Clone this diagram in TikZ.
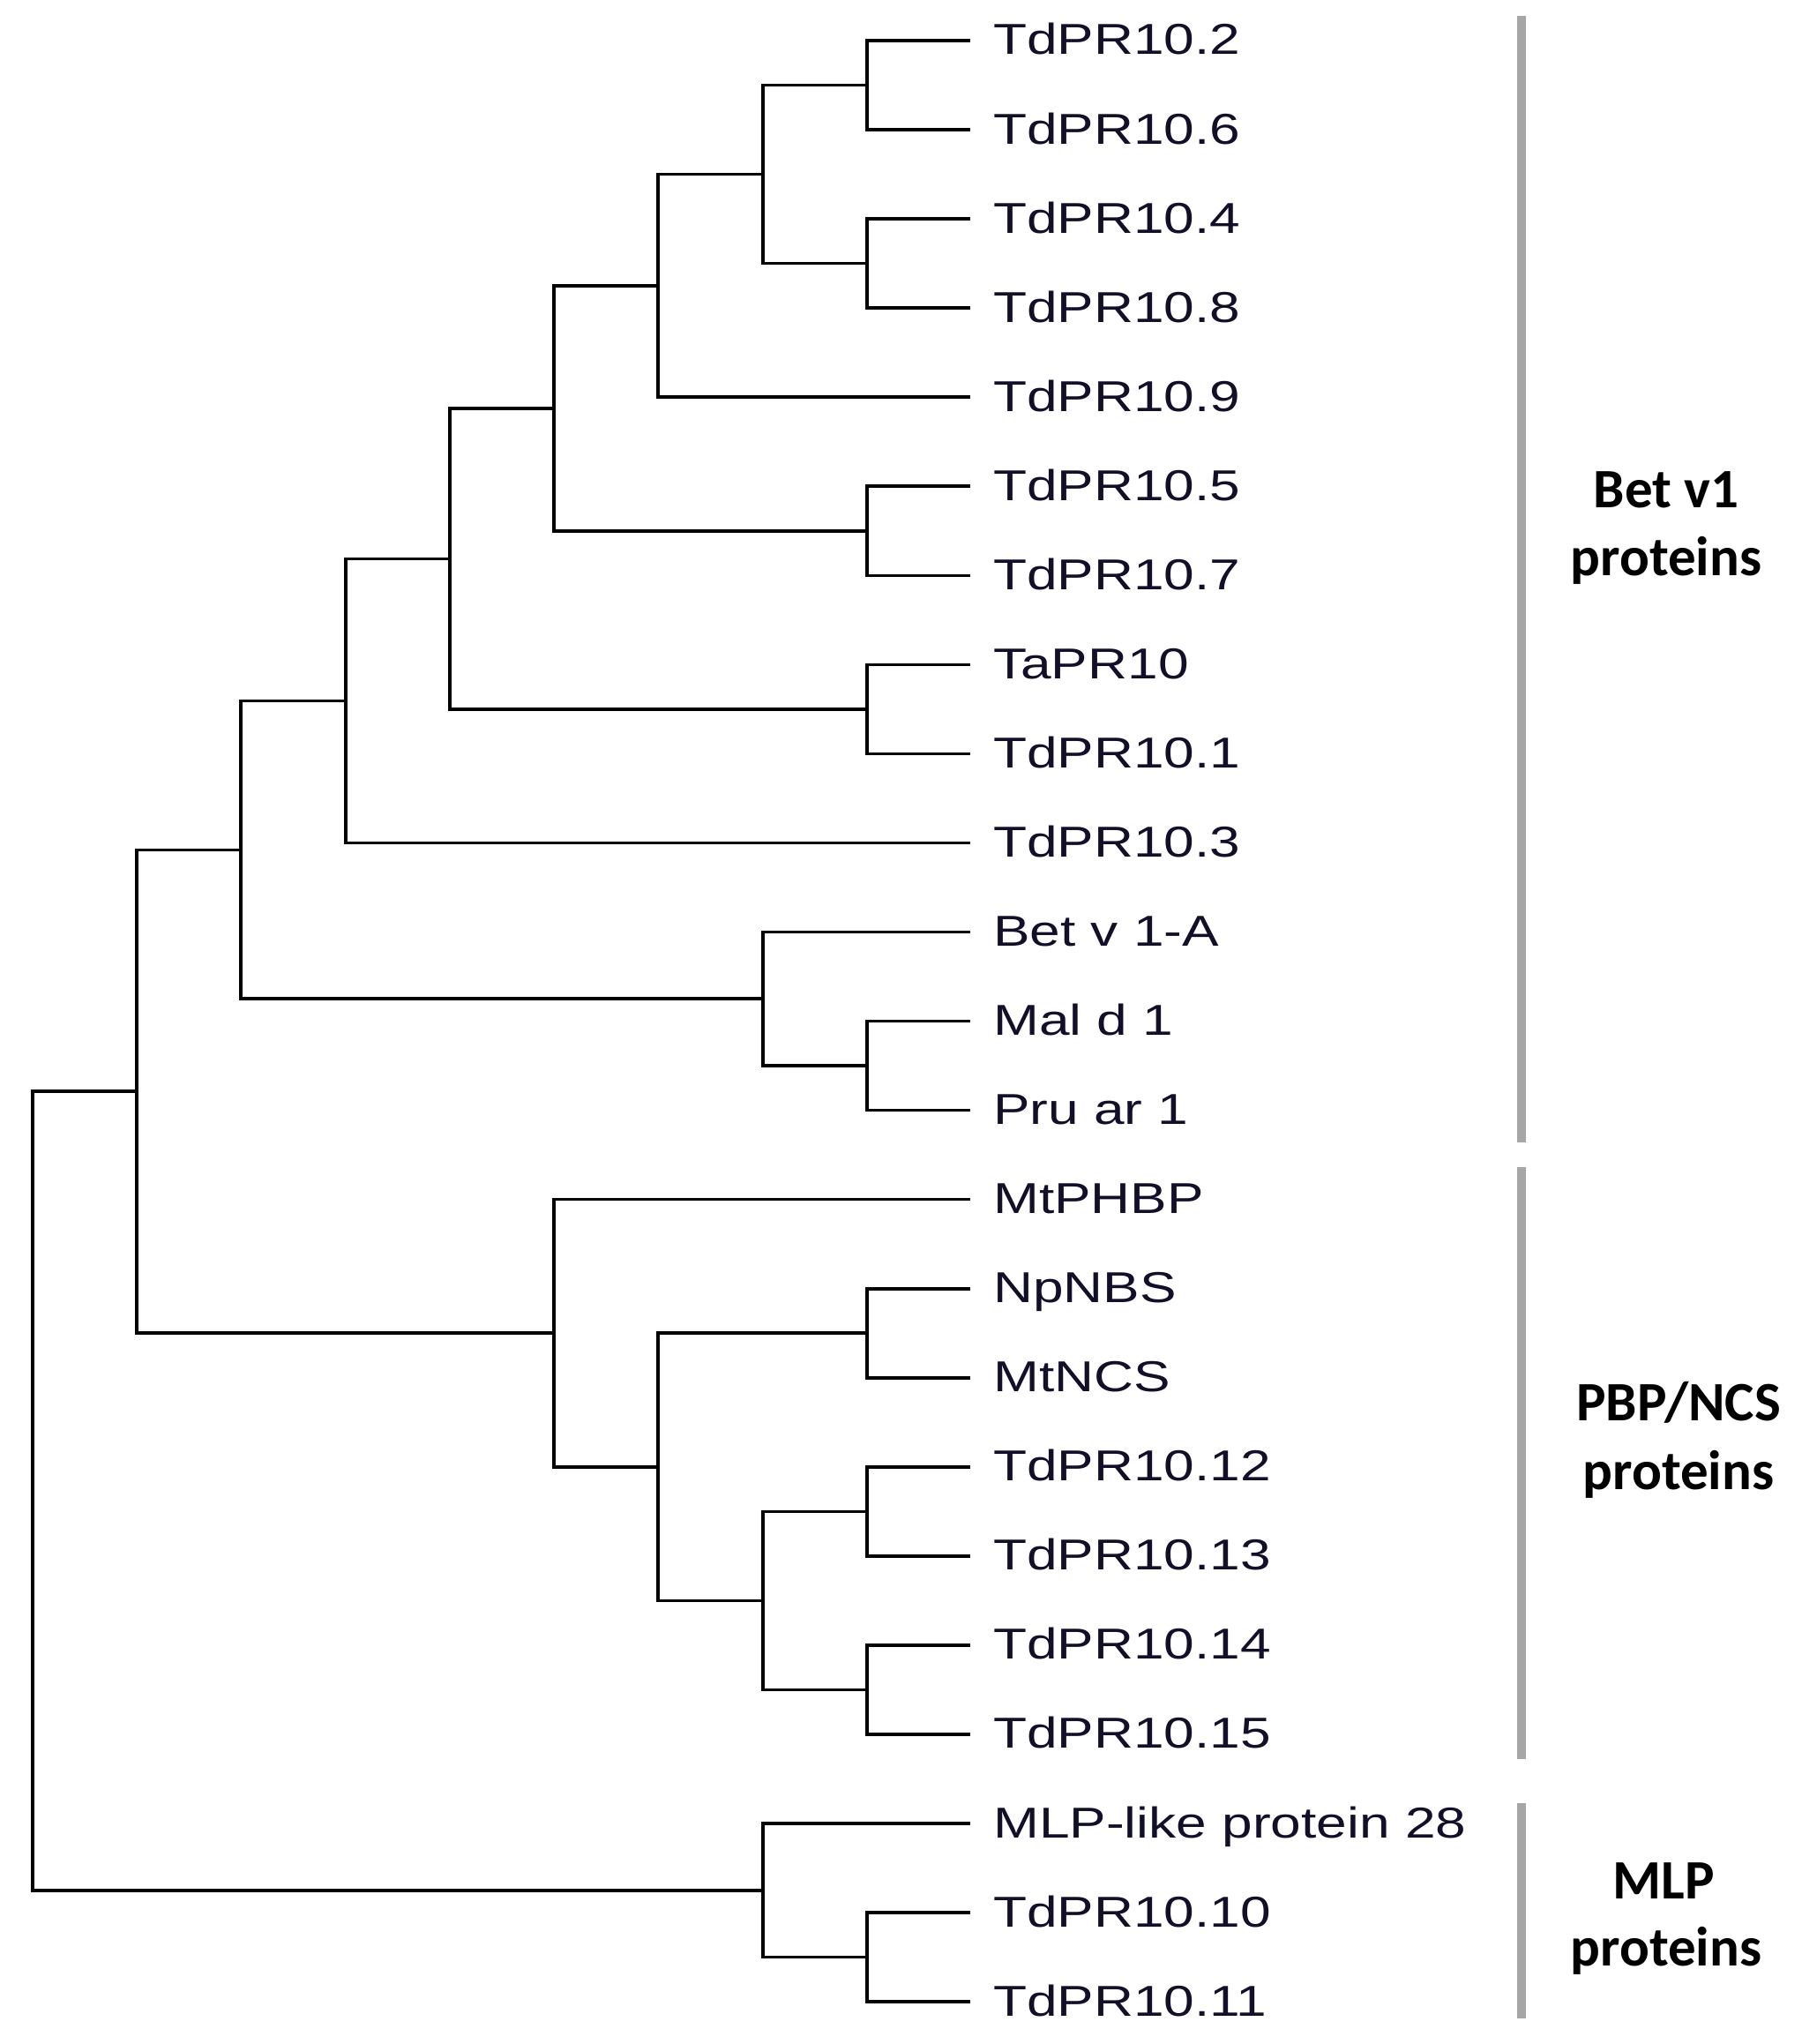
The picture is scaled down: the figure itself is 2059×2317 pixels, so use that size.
\documentclass[tikz,border=0pt]{standalone}
\usepackage{graphicx}
\usepackage{fontspec}
\setmainfont{Liberation Sans}
\newfontfamily\grpfont{Carlito}
\definecolor{labelink}{RGB}{18,16,40}
\definecolor{bargray}{RGB}{166,166,166}
\newcommand{\widetext}[1]{\scalebox{1.27}[1]{#1}}
\begin{document}
\begin{tikzpicture}[x=1pt,y=-1pt,
  declare function={ly(\i)=46+\i*101.05;},
  branch/.style={line width=3.6pt, line join=miter, line cap=rect},
  leaflabel/.style={anchor=base west, inner sep=0pt, text=labelink, font=\fontsize{49}{58}\selectfont},
  grouplabel/.style={anchor=base, inner sep=0pt, font=\grpfont\bfseries\fontsize{63}{76}\selectfont},
  groupbar/.style={fill=bargray, draw=none}]
\useasboundingbox (0,0) rectangle (2059,2317);

% leaves: end points and labels
\foreach \i/\t in {0/TdPR10.2,1/TdPR10.6,2/TdPR10.4,3/TdPR10.8,4/TdPR10.9,5/TdPR10.5,6/TdPR10.7,7/TaPR10,8/TdPR10.1,9/TdPR10.3,10/Bet v 1-A,11/Mal d 1,12/Pru ar 1,13/MtPHBP,14/NpNBS,15/MtNCS,16/TdPR10.12,17/TdPR10.13,18/TdPR10.14,19/TdPR10.15,20/MLP-like protein 28,21/TdPR10.10,22/TdPR10.11}{
  \coordinate (e\i) at (1098,{ly(\i)});
  \node[leaflabel] (n\i) at (1126,{ly(\i)+16}) {\widetext{\t}};
}

% internal nodes
\coordinate (A) at (983,{ly(0.5)});
\coordinate (B) at (983,{ly(2.5)});
\coordinate (C) at (865,{ly(1.5)});
\coordinate (D) at (746,{ly(2.75)});
\coordinate (E) at (983,{ly(5.5)});
\coordinate (F) at (628,{ly(4.125)});
\coordinate (G) at (983,{ly(7.5)});
\coordinate (H) at (510,{ly(5.8125)});
\coordinate (I) at (392,{ly(7.40625)});
\coordinate (J) at (983,{ly(11.5)});
\coordinate (K) at (865,{ly(10.75)});
\coordinate (L) at (273,{ly(9.078125)});
\coordinate (M) at (983,{ly(14.5)});
\coordinate (N) at (983,{ly(16.5)});
\coordinate (O) at (983,{ly(18.5)});
\coordinate (P) at (865,{ly(17.5)});
\coordinate (Q) at (746,{ly(16)});
\coordinate (R) at (628,{ly(14.5)});
\coordinate (S) at (155,{ly(11.7890625)});
\coordinate (T) at (983,{ly(21.5)});
\coordinate (U) at (865,{ly(20.75)});
\coordinate (root) at (37,{ly(16.26953125)});

% branches
\foreach \p/\c in {root/S,root/U,S/L,S/R,L/I,L/K,I/H,I/e9,H/F,H/G,F/D,F/E,D/C,D/e4,C/A,C/B,A/e0,A/e1,B/e2,B/e3,E/e5,E/e6,G/e7,G/e8,K/e10,K/J,J/e11,J/e12,R/e13,R/Q,Q/M,Q/P,M/e14,M/e15,P/N,P/O,N/e16,N/e17,O/e18,O/e19,U/e20,U/T,T/e21,T/e22}{
  \draw[branch] (\p) |- (\c);
}

% group bars
\fill[groupbar] (1720,18) rectangle (1730,1295);
\fill[groupbar] (1720,1323) rectangle (1730,1994);
\fill[groupbar] (1720,2044) rectangle (1730,2288);

% group labels
\node[grouplabel] (g1a) at (1889,575) {Bet v1};
\node[grouplabel] (g1b) at (1889,652) {proteins};
\node[grouplabel] (g2a) at (1903,1610) {PBP/NCS};
\node[grouplabel] (g2b) at (1903,1688) {proteins};
\node[grouplabel] (g3a) at (1886,2152) {MLP};
\node[grouplabel] (g3b) at (1889,2228) {proteins};
\end{tikzpicture}
\end{document}
